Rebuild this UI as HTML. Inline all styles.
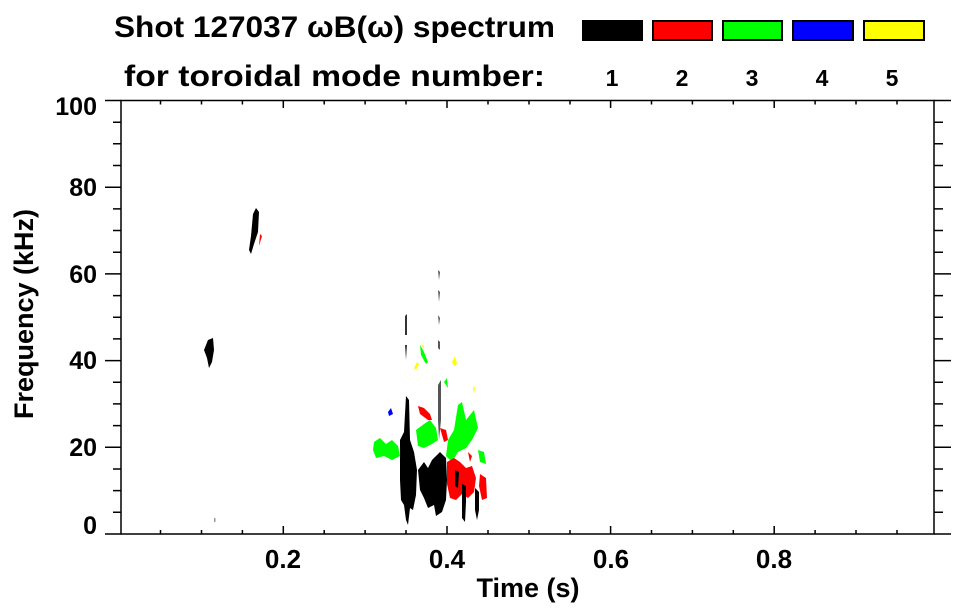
<!DOCTYPE html>
<html><head><meta charset="utf-8"><style>
html,body{margin:0;padding:0;background:#fff;}
svg{display:block;font-family:"Liberation Sans",sans-serif;font-weight:bold;}
</style></head><body>
<svg width="963" height="615" viewBox="0 0 963 615">
<text x="114" y="37" font-size="30" textLength="441" lengthAdjust="spacingAndGlyphs">Shot 127037 ωB(ω) spectrum</text>
<text x="124" y="86" font-size="30" textLength="421" lengthAdjust="spacingAndGlyphs">for toroidal mode number:</text>
<g stroke="#000" stroke-width="2">
<rect x="583" y="21" width="59" height="19" fill="#000"/>
<rect x="653" y="21" width="59" height="19" fill="#f00"/>
<rect x="723" y="21" width="59" height="19" fill="#0f0"/>
<rect x="793" y="21" width="60" height="19" fill="#00f"/>
<rect x="864" y="21" width="60" height="19" fill="#ff0"/>
</g>
<g font-size="23" text-anchor="middle">
<text x="612" y="86">1</text><text x="682" y="86">2</text><text x="752" y="86">3</text><text x="822" y="86">4</text><text x="892" y="86">5</text>
</g>
<!-- data -->
<g>
<path d="M208,340 L213,338 L214,350 L212,362 L209,368 L207,358 L204,350 Z" fill="#000"/>
<path d="M253,214 L256,208 L259,212 L258,232 L254,244 L251,254 L249,250 L251,236 Z" fill="#000"/>
<path d="M260,234 L262,236 L259,246 Z" fill="#f00"/>
<rect x="214" y="518" width="1.5" height="4" fill="#999"/>
<path d="M374,442 L380,438 L386,444 L392,440 L398,446 L400,456 L392,460 L384,456 L376,458 L373,450 Z" fill="#0f0"/>
<path d="M416,430 L424,424 L430,420 L436,428 L438,440 L432,444 L424,448 L418,446 Z" fill="#0f0"/>
<path d="M448,440 L454,430 L458,405 L462,402 L466,420 L474,410 L478,428 L472,440 L466,448 L458,452 L452,462 L446,456 Z" fill="#0f0"/>
<path d="M478,450 L484,452 L486,464 L480,462 Z" fill="#0f0"/>
<path d="M420,345 L424,352 L428,362 L426,364 L421,355 Z" fill="#0f0"/>
<path d="M444,382 L447,378 L448,388 Z" fill="#0f0"/>
<path d="M418,406 L424,408 L430,414 L432,420 L428,420 L420,414 Z" fill="#f00"/>
<path d="M440,428 L446,430 L448,440 L444,442 Z" fill="#f00"/>
<path d="M447,462 L454,458 L460,462 L466,468 L472,466 L476,478 L474,492 L468,498 L462,494 L456,500 L450,498 L447,484 Z" fill="#f00"/>
<path d="M480,474 L486,478 L487,498 L482,500 L479,486 Z" fill="#f00"/>
<path d="M468,452 L472,456 L470,462 Z" fill="#f00"/>
<path d="M400,440 L404,432 L406,396 L409,400 L410,440 L414,452 L417,470 L416,495 L413,510 L410,508 L408,525 L406,520 L404,505 L401,500 L400,480 Z" fill="#000"/>
<path d="M418,470 L424,462 L428,468 L432,460 L436,456 L440,452 L446,458 L447,480 L446,500 L442,512 L436,516 L434,505 L428,508 L424,498 L420,490 Z" fill="#000"/>
<path d="M462,484 L466,486 L466,502 L465,522 L462,518 Z" fill="#000"/>
<path d="M475,488 L479,492 L479,510 L477,520 L475,510 Z" fill="#000"/>
<path d="M455,470 L459,472 L458,488 L455,486 Z" fill="#000"/>
<path d="M405,316 L407,314 L407,335 L405,335 Z" fill="#333"/>
<path d="M405,345 L407,345 L406,360 Z" fill="#333"/>
<path d="M438,270 L440,272 L439,280 Z M438,290 L440,292 L439,302 Z M438,315 L440,318 L439,325 Z M438,340 L440,342 L440,350 L438,348 Z M438,385 L441,380 L441,420 L439,440 L438,420 Z" fill="#555"/>
<path d="M388,412 L391,408 L393,414 L389,416 Z" fill="#00f"/>
<path d="M414,368 L417,362 L419,364 L416,370 Z M422,344 L424,346 L423,350 Z" fill="#ff0"/>
<path d="M452,362 L455,356 L457,364 L454,366 Z M473,388 L475,386 L474,394 Z" fill="#ff0"/>
</g>
<g stroke="#000" stroke-width="1.5" fill="none">
<rect x="121" y="100.5" width="813" height="433.5"/>
<path d="M105,100.5 H121 M105,534 H121 M934,100.5 H951 M934,534 H951"/>
<path d="M105,187.2 H121 M105,273.9 H121 M105,360.6 H121 M105,447.3 H121"/>
<path d="M934,187.2 H951 M934,273.9 H951 M934,360.6 H951 M934,447.3 H951"/>
<path d="M113,122.2H121M113,143.8H121M113,165.5H121M113,208.9H121M113,230.5H121M113,252.2H121M113,295.6H121M113,317.2H121M113,338.9H121M113,382.3H121M113,403.9H121M113,425.6H121M113,469H121M113,490.6H121M113,512.3H121"/>
<path d="M934,122.2H943M934,143.8H943M934,165.5H943M934,208.9H943M934,230.5H943M934,252.2H943M934,295.6H943M934,317.2H943M934,338.9H943M934,382.3H943M934,403.9H943M934,425.6H943M934,469H943M934,490.6H943M934,512.3H943"/>
<path d="M283.3,534V526 M447,534V526 M610.6,534V526 M774.2,534V526"/>
<path d="M283.3,100.5V108 M447,100.5V108 M610.6,100.5V108 M774.2,100.5V108"/>
<path d="M160.5,534V530M201.5,534V530M242.4,534V530M324.2,534V530M365.1,534V530M406,534V530M488,534V530M529,534V530M570,534V530M651.5,534V530M692.4,534V530M733.3,534V530M815.1,534V530M856,534V530M897,534V530"/>
<path d="M160.5,100.5V104.5M201.5,100.5V104.5M242.4,100.5V104.5M324.2,100.5V104.5M365.1,100.5V104.5M406,100.5V104.5M488,100.5V104.5M529,100.5V104.5M570,100.5V104.5M651.5,100.5V104.5M692.4,100.5V104.5M733.3,100.5V104.5M815.1,100.5V104.5M856,100.5V104.5M897,100.5V104.5"/>
</g>
<g font-size="25" text-anchor="end">
<text x="97" y="115">100</text><text x="97" y="196">80</text><text x="97" y="283">60</text><text x="97" y="369">40</text><text x="97" y="456">20</text><text x="97" y="534">0</text>
</g>
<g font-size="26" text-anchor="middle">
<text x="283" y="568">0.2</text><text x="447" y="568">0.4</text><text x="611" y="568">0.6</text><text x="774" y="568">0.8</text>
<text x="528" y="597" font-size="27">Time (s)</text>
</g>
<text transform="translate(33,314) rotate(-90)" font-size="27" text-anchor="middle">Frequency (kHz)</text>
</svg>
</body></html>
